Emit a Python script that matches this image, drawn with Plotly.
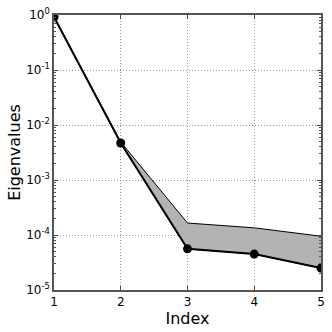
import plotly.graph_objects as go

index = [1, 2, 3, 4, 5]
eig_lower = [0.92, 4.7e-3, 5.6e-5, 4.5e-5, 2.5e-5]
eig_upper = [0.92, 4.9e-3, 1.65e-4, 1.35e-4, 9.5e-5]
ytick_vals = [1e-5, 1e-4, 1e-3, 1e-2, 1e-1, 1e0]
ytick_text = ["10<sup>-5</sup>", "10<sup>-4</sup>", "10<sup>-3</sup>",
              "10<sup>-2</sup>", "10<sup>-1</sup>", "10<sup>0</sup>"]

fig = go.Figure()
fig.add_trace(go.Scatter(x=index, y=eig_lower, mode="lines",
                         line=dict(color="black", width=1), showlegend=False))
fig.add_trace(go.Scatter(x=index, y=eig_upper, mode="lines", fill="tonexty",
                         fillcolor="#b3b3b3",
                         line=dict(color="black", width=1), showlegend=False))
fig.add_trace(go.Scatter(x=index, y=eig_lower, mode="lines+markers",
                         line=dict(color="black", width=2),
                         marker=dict(color="black", size=9),
                         showlegend=False))

fig.update_layout(
    width=332, height=332,
    margin=dict(l=54, r=11, t=15, b=42),
    paper_bgcolor="white", plot_bgcolor="white",
    font=dict(family="DejaVu Sans", color="black", size=12),
)
fig.update_xaxes(
    range=[1, 5], tickvals=index, ticks="inside", ticklen=4,
    showline=True, linecolor="#555", linewidth=1.5, mirror="ticks",
    showgrid=True, gridcolor="#999", griddash="1px,2px", gridwidth=1,
    title=dict(text="Index", font=dict(size=16), standoff=0),
    zeroline=False, automargin=False, ticklabeloverflow="allow",
)
fig.update_yaxes(
    type="log", range=[-5, 0], tickvals=ytick_vals, ticktext=ytick_text,
    ticks="inside", ticklen=4,
    showline=True, linecolor="#555", linewidth=1.5, mirror="ticks",
    showgrid=True, gridcolor="#999", griddash="1px,2px", gridwidth=1,
    minor=dict(ticks="inside", ticklen=2, dtick="D1", showgrid=False,
               tickcolor="#555"),
    title=dict(text="Eigenvalues", font=dict(size=16), standoff=2),
    zeroline=False, automargin=False, ticklabeloverflow="allow",
)
fig.write_html("out.html",
               config={"displayModeBar": False},
               post_script="document.body.style.margin='0';"
                           "document.body.style.overflow='hidden';")
